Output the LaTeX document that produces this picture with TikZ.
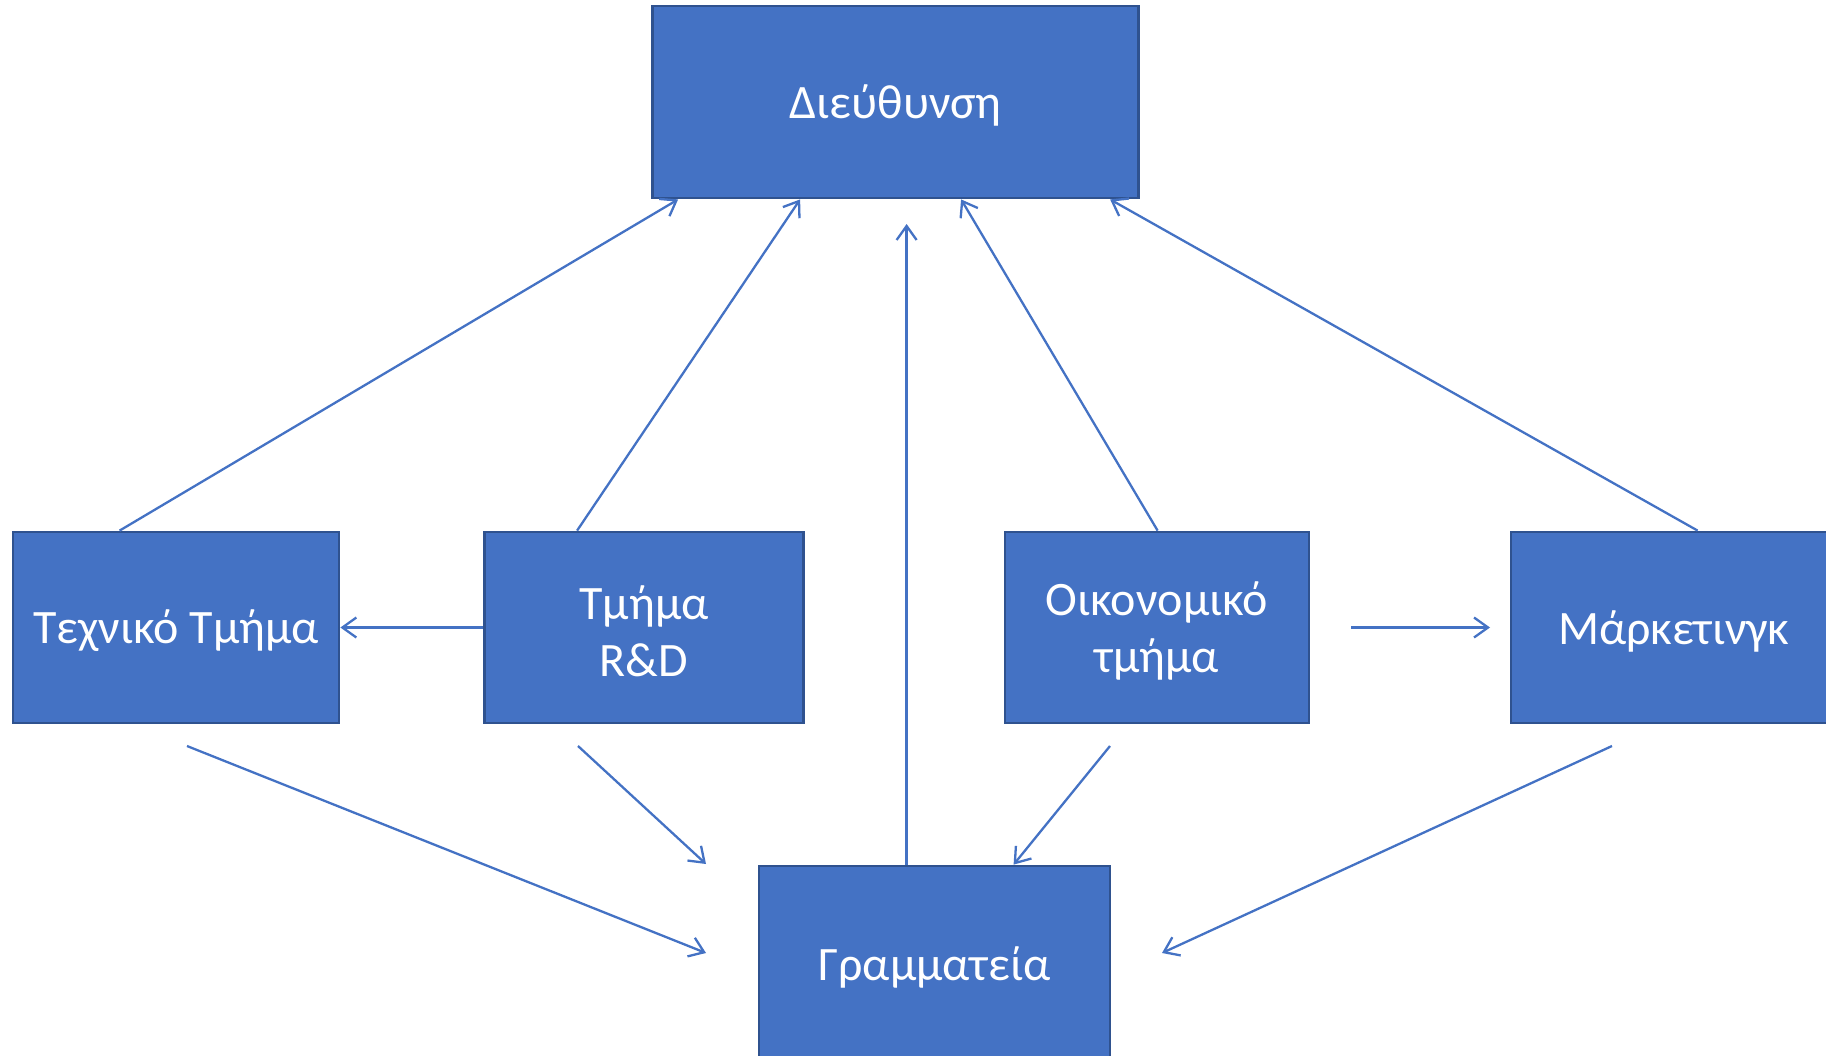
\documentclass[tikz,border=0pt]{standalone}
\usepackage{fontspec}
\setmainfont{Carlito}
\usetikzlibrary{arrows.meta}
\definecolor{boxfill}{HTML}{4472C4}
\definecolor{boxline}{HTML}{2F528F}
\begin{document}
\begin{tikzpicture}[x=1pt,y=-1pt,
  dept/.style={draw=boxline, line width=2.8pt, fill=boxfill, inner sep=0pt},
  txt/.style={text=white, inner sep=0pt, yshift=-3.5pt,
    font=\fontsize{48}{57}\selectfont, align=center},
  link/.style={draw=boxfill, line width=2.3pt,
    -{Straight Barb[length=14pt,width=20pt,line width=2.3pt]}}]
\useasboundingbox (0,0) rectangle (1826,1055);
\clip (0,0) rectangle (1826,1055);
\node[dept, minimum width=486pt, minimum height=192pt,
  label={[txt]center:Διεύθυνση}] (dir) at (895.5,102) {};
\node[dept, minimum width=326pt, minimum height=191pt,
  label={[txt]center:Τεχνικό Τμήμα}] (tech) at (176,627.5) {};
\node[dept, minimum width=319pt, minimum height=191pt,
  label={[txt]center:Τμήμα\\R\&D}] (rd) at (644,627.5) {};
\node[dept, minimum width=304pt, minimum height=191pt,
  label={[txt]center:Οικονομικό\\τμήμα}] (fin) at (1157,627.5) {};
\node[dept, minimum width=326pt, minimum height=191pt,
  label={[txt]center:Μάρκετινγκ}] (mkt) at (1674,627.5) {};
\node[dept, minimum width=351pt, minimum height=196pt,
  label={[txt]center:Γραμματεία}] (sec) at (934.5,964) {};
% free ends
\coordinate (secup) at (908,224);
\coordinate (f1) at (1351,627.5);
\coordinate (m1) at (1490,627.5);
\coordinate (t2) at (187,746);
\coordinate (t3) at (706,953);
\coordinate (r2) at (578,746);
\coordinate (r3) at (706,864);
\coordinate (o2) at (1110,746);
\coordinate (k2) at (1612,746);
\coordinate (k3) at (1162,953);
% to management
\draw[link] ([xshift=108pt]tech.north west) -- ([xshift=27pt]dir.south west);
\draw[link] ([xshift=94pt]rd.north west) -- ([xshift=149pt]dir.south west);
\draw[link] ([xshift=149pt]sec.north west) -- ([xshift=149pt]sec.north west |- secup);
\draw[link] ([xshift=154pt]fin.north west) -- ([xshift=310pt]dir.south west);
\draw[link] ([xshift=188pt]mkt.north west) -- ([xshift=459pt]dir.south west);
% horizontal
\draw[link] (rd.west) -- (tech.east);
\draw[link] (f1) -- (m1);
% to secretariat
\draw[link] (t2) -- (t3);
\draw[link] (r2) -- (r3);
\draw[link] (o2) -- ([xshift=256pt]sec.north west);
\draw[link] (k2) -- (k3);
\end{tikzpicture}
\end{document}
